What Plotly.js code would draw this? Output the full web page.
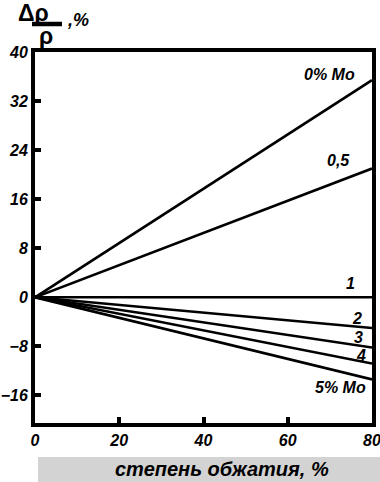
<!DOCTYPE html>
<html><head><meta charset="utf-8">
<script src="https://cdn.plot.ly/plotly-3.0.1.min.js"></script>
<style>html,body{margin:0;padding:0;background:#fff;}#chart{width:380px;height:482px;}</style>
</head><body><div id="chart"></div>
<script>
// Data
const reduction = [0, 80];               // степень обжатия, %
const seriesNames = ['0% Mo', '0,5', '1', '2', '3', '4', '5% Mo'];
const endValues = [35.4, 21, 0, -5, -8.2, -10.8, -13.4]; // Δρ/ρ, % at 80 %
const xTicks = [0, 20, 40, 60, 80];
const yTicks = [-16, -8, 0, 8, 16, 24, 32, 40];

const W = 380, H = 482;
const M = {l: 35, r: 8, t: 52, b: 59};
const pw = W - M.l - M.r, ph = H - M.t - M.b;
const PX = x => (x - M.l) / pw;
const PY = y => (H - M.b - y) / ph;

const traces = seriesNames.map((n, i) => ({
  x: reduction, y: [0, endValues[i]], type: 'scatter', mode: 'lines',
  name: n, line: {color: '#000', width: 2.6}, hoverinfo: 'skip'
}));

const FAM = 'Liberation Sans, Arial, sans-serif';
const tickFont = {family: FAM, size: 16, color: '#000', weight: 'bold', style: 'italic'};
const labFont = {family: FAM, size: 16, color: '#000', weight: 'bold', style: 'italic'};

const labelPos = [[329, 74], [338, 160], [350, 283], [357, 318], [358, 337], [361, 355], [340, 387]];
const annotations = seriesNames.map((n, i) => ({
  text: n, xref: 'paper', yref: 'paper', x: PX(labelPos[i][0]), y: PY(labelPos[i][1]),
  xanchor: 'center', yanchor: 'middle', showarrow: false, font: labFont
}));
annotations.push(
  {text: 'степень обжатия, %', xref: 'paper', yref: 'paper', x: PX(222), y: PY(469),
   xanchor: 'center', yanchor: 'middle', showarrow: false,
   font: {family: FAM, size: 20, color: '#000', weight: 'bold', style: 'italic'}},
  {text: 'Δρ', xref: 'paper', yref: 'paper', x: PX(33), y: PY(13), xanchor: 'center', yanchor: 'middle',
   showarrow: false, font: {family: FAM, size: 23, color: '#000', weight: 'bold'}},
  {text: 'ρ', xref: 'paper', yref: 'paper', x: PX(46), y: PY(36), xanchor: 'center', yanchor: 'middle',
   showarrow: false, font: {family: FAM, size: 23, color: '#000', weight: 'bold'}},
  {text: ',%', xref: 'paper', yref: 'paper', x: PX(78), y: PY(20), xanchor: 'center', yanchor: 'middle',
   showarrow: false, font: {family: FAM, size: 18, color: '#000', weight: 'bold', style: 'italic'}}
);

const shapes = [
  {type: 'rect', xref: 'paper', yref: 'paper', x0: PX(38), x1: PX(381), y0: PY(482), y1: PY(457),
   fillcolor: '#d3d3d3', line: {width: 0}, layer: 'below'},
  {type: 'line', xref: 'paper', yref: 'paper', x0: PX(32), x1: PX(62), y0: PY(24), y1: PY(24),
   line: {color: '#000', width: 4.5}}
];

const xr = [0, 80], yr = [-20.5, 40];
const layout = {
  width: W, height: H, margin: M, showlegend: false,
  paper_bgcolor: '#fff', plot_bgcolor: '#fff',
  xaxis: {range: xr, tickvals: xTicks, ticks: 'inside', ticklen: 6, tickwidth: 4, tickcolor: '#000',
    showline: true, linewidth: 4, linecolor: '#000', mirror: true, showgrid: false, zeroline: false,
    tickfont: tickFont, ticklabeloverflow: 'allow', fixedrange: true},
  xaxis2: {range: xr, overlaying: 'x', anchor: 'y', tickvals: [20, 40, 60], ticks: 'outside', ticklen: 2, tickwidth: 4,
    tickcolor: '#000', showticklabels: false, showline: false, showgrid: false, zeroline: false},
  yaxis: {range: yr, tickvals: yTicks, ticks: 'inside', ticklen: 6, tickwidth: 4, tickcolor: '#000',
    showline: true, linewidth: 4, linecolor: '#000', mirror: true, showgrid: false, zeroline: false,
    tickfont: tickFont, ticklabeloverflow: 'allow', fixedrange: true},
  yaxis2: {range: yr, overlaying: 'y', anchor: 'x', side: 'left', tickvals: [-16, -8, 0, 8, 16, 24, 32], ticks: 'outside',
    ticklen: 2, tickwidth: 4, tickcolor: '#000', showticklabels: false, showline: false, showgrid: false, zeroline: false},
  annotations, shapes
};
traces.push({x: [0], y: [0], xaxis: 'x2', yaxis: 'y2', mode: 'markers', marker: {opacity: 0}, hoverinfo: 'skip', type: 'scatter'});
Plotly.newPlot('chart', traces, layout, {staticPlot: true});
</script></body></html>
